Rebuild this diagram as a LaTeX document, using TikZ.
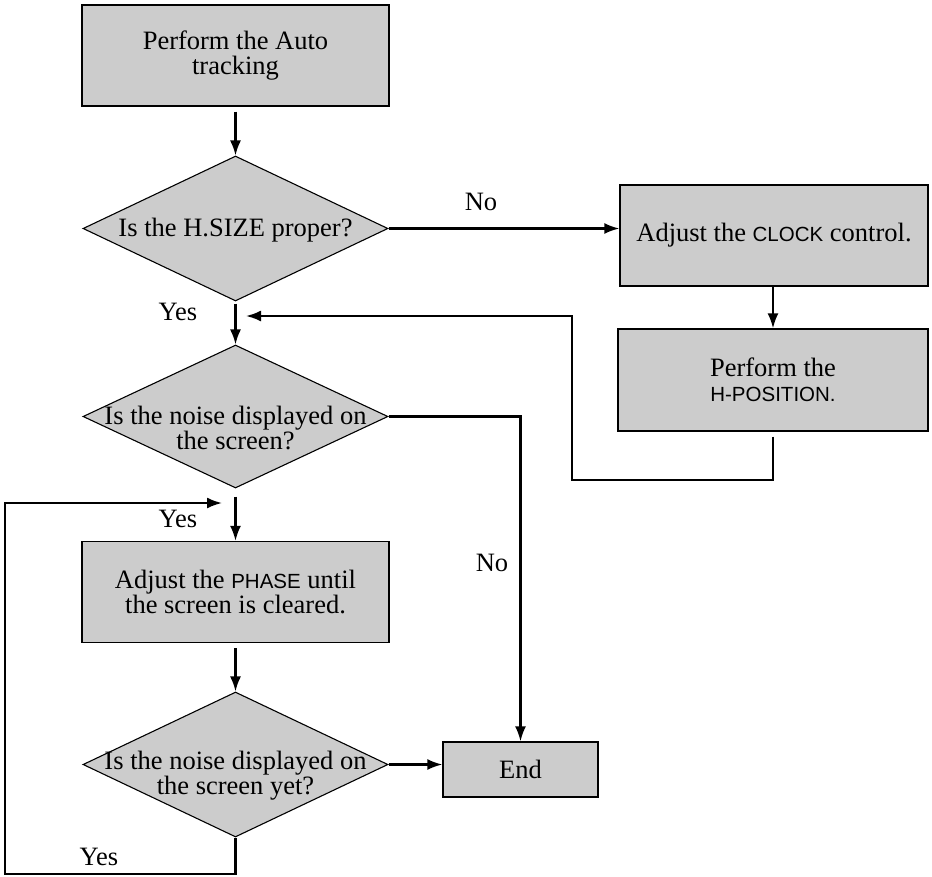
\documentclass[tikz,border=0pt]{standalone}
\usepackage{fontspec}
\setmainfont{Liberation Serif}
\newfontfamily\hvfam{Liberation Sans}
\usetikzlibrary{arrows.meta,shapes.geometric}
\definecolor{boxgray}{RGB}{204,204,204}
\newcommand\mainfs{\fontsize{26.5}{25}\selectfont}
\newcommand\hvs[1]{{\hvfam\fontsize{20.5}{25}\selectfont #1}}
\begin{document}
\begin{tikzpicture}[x=1pt,y=-1pt,
  box/.style={draw=black,line width=1.3pt,fill=boxgray,inner sep=0pt,align=center,font=\mainfs},
  dec/.style={diamond,draw=black,line width=1.1pt,fill=boxgray,inner sep=0pt,minimum width=305pt,minimum height=145pt},
  dtext/.style={align=center,font=\mainfs,inner sep=0pt},
  lbl/.style={font=\mainfs,inner sep=0pt},
  conn/.style={draw=black,line width=2.1pt},
  arr/.style={conn,-{Latex[length=15pt,width=11pt]}}]
\useasboundingbox (0,0) rectangle (932,876);
% nodes
\node[box,minimum width=307pt,minimum height=101pt] (b1) at (235.5,55.5) {Perform the Auto\\tracking};
\node[dec] (d1) at (235.5,228.5) {};
\node[dtext] (t1) at (235.5,230) {Is the H.SIZE proper?};
\node[box,minimum width=308pt,minimum height=101pt] (clk) at (774,235.5) {Adjust the \hvs{CLOCK} control.};
\node[box,minimum width=310pt,minimum height=102pt] (pos) at (773,380) {Perform the\\\hvs{H-POSITION.}};
\node[dec,minimum height=143pt] (d2) at (235.5,416.5) {};
\node[dtext] (t2) at (235.5,428) {Is the noise displayed on\\the screen?};
\node[box,minimum width=307pt,minimum height=101pt] (b3) at (235.5,592) {Adjust the \hvs{PHASE} until\\the screen is cleared.};
\node[dec] (d3) at (235.5,764.5) {};
\node[dtext] (t3) at (235.5,776) {Is the noise displayed on\\the screen yet?};
\node[box,minimum width=155pt,minimum height=55pt] (end) at (520.5,769.5) {End};
% labels
\node[lbl] (no1) at (481,202) {No};
\node[lbl] (no2) at (492,563) {No};
\node[lbl] (yes1) at (178,312) {Yes};
\node[lbl] (yes2) at (178,519) {Yes};
\node[lbl] (yes3) at (99,857) {Yes};
% coordinates
\coordinate (m1) at (246,316);
\coordinate (m2) at (222,503);
% connectors
\draw[arr,shorten <=5pt] (b1.south) -- (d1.north);
\draw[arr] (d1.east) -- (clk.west |- d1.east);
\draw[arr] (clk.south -| pos.north) -- (pos.north);
\draw[conn,shorten <=5pt,-{Latex[length=15pt,width=11pt]}] (pos.south) -- ++(0,48) -| (572,316) -- (m1);
\draw[arr,shorten <=2pt] (d1.south) -- (d2.north);
\draw[arr] (d2.east) -| (end.north);
\draw[arr,shorten <=8pt] (d2.south) -- (b3.north);
\draw[arr,shorten <=5pt] (b3.south) -- (d3.north);
\draw[arr] (d3.east) -- (d3.east -| end.west);
\draw[arr] (d3.south) -- (235.5,874) -- (5,874) |- (m2);
\end{tikzpicture}
\end{document}
